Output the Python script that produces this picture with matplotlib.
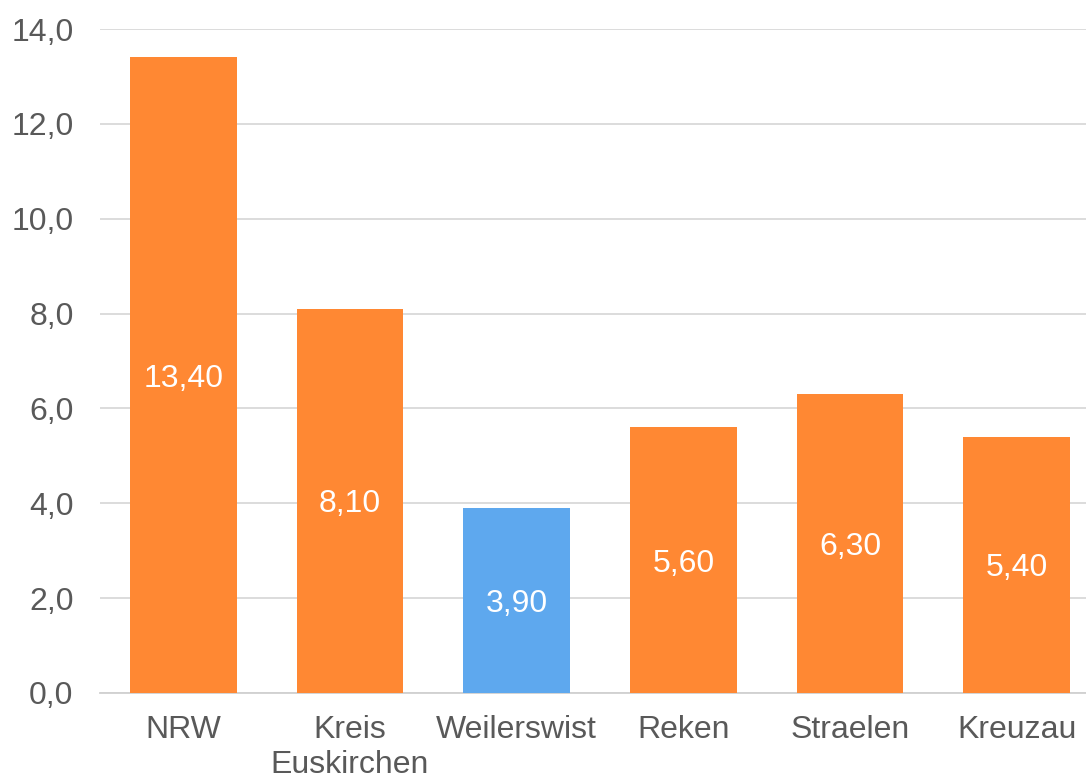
import matplotlib
matplotlib.use("Agg")
import matplotlib.pyplot as plt

categories = ["NRW", "Kreis\nEuskirchen", "Weilerswist", "Reken", "Straelen", "Kreuzau"]
values = [13.4, 8.1, 3.9, 5.6, 6.3, 5.4]
labels = ["13,40", "8,10", "3,90", "5,60", "6,30", "5,40"]
yticks = [0, 2, 4, 6, 8, 10, 12, 14]
ytick_labels = ["0,0", "2,0", "4,0", "6,0", "8,0", "10,0", "12,0", "14,0"]

orange = "#FF8833"
blue = "#5EA8EE"
colors = [orange, orange, blue, orange, orange, orange]
text_gray = "#595959"

plt.rcParams['font.family'] = ['Liberation Sans', 'DejaVu Sans']

fig = plt.figure(figsize=(10.86, 7.82), dpi=100)
ax = fig.add_axes([100/1086, 89/782, 1000/1086, 664/782])

x = list(range(len(categories)))
bars = ax.bar(x, values, width=0.64, color=colors, zorder=3)
for xi, v, lab in zip(x, values, labels):
    ax.text(xi, v / 2, lab, ha="center", va="center_baseline", color="white", fontsize=23, zorder=4)

ax.set_xlim(-0.5, 5.5)
ax.set_ylim(0, 14)
ax.set_yticks(yticks)
ax.set_yticklabels(ytick_labels, fontsize=23, color=text_gray)
ax.set_xticks(x)
ax.set_xticklabels(categories, fontsize=23, color=text_gray, linespacing=1.22)
ax.tick_params(axis="both", length=0)
ax.tick_params(axis="y", pad=19)
ax.tick_params(axis="x", pad=16)
ax.grid(axis="y", color="#D9D9D9", linewidth=1.3, zorder=0)
for s in ["top", "right", "left"]:
    ax.spines[s].set_visible(False)
ax.spines["bottom"].set_color("#D0D0D0")
ax.spines["bottom"].set_linewidth(1.3)

fig.savefig("out.png", dpi=100)
